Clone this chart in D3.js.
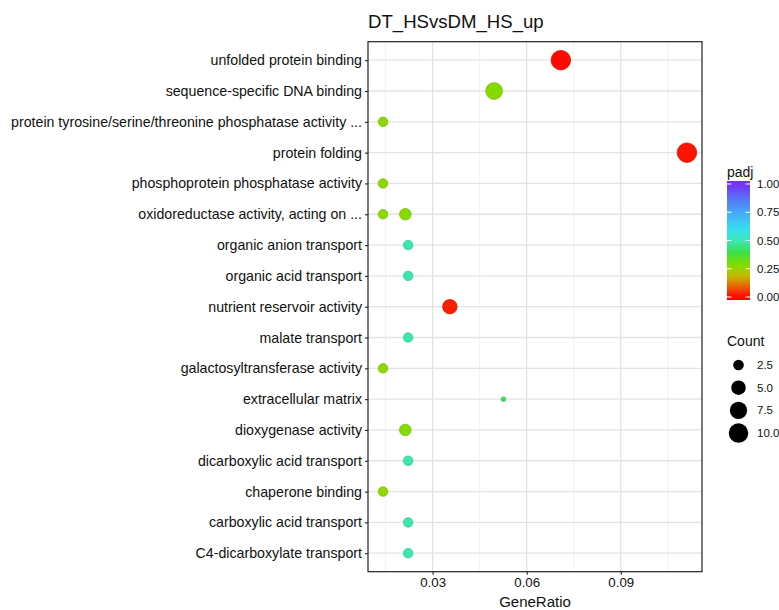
<!DOCTYPE html>
<html><head><meta charset="utf-8">
<script src="https://cdn.jsdelivr.net/npm/d3@7"></script>
<style>body{margin:0;background:#fff}svg{display:block}text{font-family:"Liberation Sans",Arial,sans-serif}</style>
</head><body><svg id="c" width="779" height="610"></svg>
<script>
const title = "DT_HSvsDM_HS_up";
const categories = ["unfolded protein binding","sequence-specific DNA binding","protein tyrosine/serine/threonine phosphatase activity ...","protein folding","phosphoprotein phosphatase activity","oxidoreductase activity, acting on ...","organic anion transport","organic acid transport","nutrient reservoir activity","malate transport","galactosyltransferase activity","extracellular matrix","dioxygenase activity","dicarboxylic acid transport","chaperone binding","carboxylic acid transport","C4-dicarboxylate transport"];
const pointTerms = ["unfolded protein binding","sequence-specific DNA binding","protein tyrosine/serine/threonine phosphatase activity ...","protein folding","phosphoprotein phosphatase activity","oxidoreductase activity, acting on ...","oxidoreductase activity, acting on ...","organic anion transport","organic acid transport","nutrient reservoir activity","malate transport","galactosyltransferase activity","extracellular matrix","dioxygenase activity","dicarboxylic acid transport","chaperone binding","carboxylic acid transport","C4-dicarboxylate transport"];
const geneRatio = [0.0709,0.0496,0.0142,0.1111,0.0142,0.0142,0.0213,0.0222,0.0222,0.0355,0.0222,0.0142,0.0526,0.0213,0.0222,0.0142,0.0222,0.0222];
const counts = [10,7,2,10,2,2,3,2,2,5,2,2,1,3,2,2,2,2];
const padj = [0.01,0.28,0.27,0.02,0.27,0.27,0.28,0.49,0.49,0.03,0.49,0.27,0.41,0.28,0.49,0.27,0.49,0.49];
const xTicks = [0.03,0.06,0.09];
const xMinor = [0.015,0.045,0.075,0.105];
const xDomain = [0.0094,0.1159];
const padjTicks = [0,0.25,0.5,0.75,1];
const countTicks = [2.5,5.0,7.5,10.0];
const countRange = [1,10];
const colorStops = [0,0.1,0.2,0.3,0.4,0.5,0.6,0.75,0.9,1];
const colorVals = ["#ff0000","#ea6a00","#bcc400","#78e000","#36e04e","#3ce8b6","#36e0f0","#46a8f8","#5c66f6","#7a2cf6"];

const svg = d3.select("#c");
const L=368, R=702, T=41.7, B=571.7;
const FONT = "Liberation Sans, Arial, sans-serif";
const x = d3.scaleLinear().domain(xDomain).range([L,R]);
const y = d3.scalePoint().domain(categories).range([T,B]).padding(0.6);
const col = d3.scaleLinear().domain(colorStops).range(colorVals).clamp(true);
const rr = d3.scaleSqrt().domain([0,countRange[1]-countRange[0]]).range([2.25,9.75]);
const r = c => rr(Math.max(0,c-countRange[0]));

const g = svg.append("g");
g.append("rect").attr("x",L).attr("y",T).attr("width",R-L).attr("height",B-T).attr("fill","#fff");
g.selectAll(".mg").data(xMinor).join("line").attr("x1",d=>x(d)).attr("x2",d=>x(d)).attr("y1",T).attr("y2",B).attr("stroke","#ebebeb").attr("stroke-width",0.7);
g.selectAll(".Mg").data(xTicks).join("line").attr("x1",d=>x(d)).attr("x2",d=>x(d)).attr("y1",T).attr("y2",B).attr("stroke","#e3e3e3").attr("stroke-width",1.3);
g.selectAll(".yg").data(categories).join("line").attr("x1",L).attr("x2",R).attr("y1",d=>y(d)).attr("y2",d=>y(d)).attr("stroke","#e3e3e3").attr("stroke-width",1.3);

const pts = geneRatio.map((v,i)=>({t:pointTerms[i],v,c:counts[i],p:padj[i]}));
g.selectAll(".pt").data(pts).join("circle").attr("cx",d=>x(d.v)).attr("cy",d=>y(d.t)).attr("r",d=>r(d.c))
 .attr("fill",d=>col(d.p)).attr("stroke",d=>d3.color(col(d.p)).darker(0.35)).attr("stroke-width",0.8);

g.append("rect").attr("x",L).attr("y",T).attr("width",R-L).attr("height",B-T).attr("fill","none").attr("stroke","#222").attr("stroke-width",1.2);

const xa = svg.append("g").attr("transform",`translate(0,${B})`).call(d3.axisBottom(x).tickValues(xTicks).tickFormat(d3.format(".2f")).tickSize(3).tickPadding(3));
xa.select(".domain").remove();
xa.selectAll("line").attr("stroke","#222").attr("stroke-width",1.1);
xa.selectAll("text").attr("font-size",13.3).attr("fill","#111").attr("font-family",FONT);
const ya = svg.append("g").attr("transform",`translate(${L},0)`).call(d3.axisLeft(y).tickSize(3).tickPadding(3));
ya.select(".domain").remove();
ya.selectAll("line").attr("stroke","#222").attr("stroke-width",1.1);
ya.selectAll("text").attr("font-size",14.2).attr("fill","#111").attr("font-family",FONT);

svg.append("text").attr("x",(L+R)/2).attr("y",607).attr("text-anchor","middle").attr("font-size",15).attr("fill","#111").text("GeneRatio");
svg.append("text").attr("x",L).attr("y",28).attr("font-size",18.6).attr("fill","#111").text(title);

const cbX=727, cbW=23, cbT=181, cbH=119;
svg.append("text").attr("x",cbX).attr("y",177).attr("font-size",14).attr("fill","#111").text("padj");
const defs = svg.append("defs");
const grad = defs.append("linearGradient").attr("id","gr").attr("x1",0).attr("y1",1).attr("x2",0).attr("y2",0);
d3.range(0,1.0001,0.05).forEach(t=>grad.append("stop").attr("offset",t).attr("stop-color",col((t-0.025)/0.95)));
svg.append("rect").attr("x",cbX).attr("y",cbT).attr("width",cbW).attr("height",cbH).attr("fill","url(#gr)");
const cy = d3.scaleLinear().domain([0,1]).range([cbT+cbH*0.975, cbT+cbH*0.025]);
padjTicks.forEach(t=>{
  svg.append("line").attr("x1",cbX).attr("x2",cbX+4.5).attr("y1",cy(t)).attr("y2",cy(t)).attr("stroke","#fff").attr("stroke-width",1);
  svg.append("line").attr("x1",cbX+cbW-4.5).attr("x2",cbX+cbW).attr("y1",cy(t)).attr("y2",cy(t)).attr("stroke","#fff").attr("stroke-width",1);
  svg.append("text").attr("x",757).attr("y",cy(t)+4).attr("font-size",11.5).attr("fill","#111").text(d3.format(".2f")(t));
});

svg.append("text").attr("x",cbX).attr("y",346).attr("font-size",14).attr("fill","#111").text("Count");
countTicks.forEach((c,i)=>{
  const yy = 365 + i*22.7;
  svg.append("circle").attr("cx",738.5).attr("cy",yy).attr("r",r(c)).attr("fill","#000");
  svg.append("text").attr("x",757).attr("y",yy+4).attr("font-size",11.5).attr("fill","#111").text(d3.format(".1f")(c));
});
</script></body></html>
